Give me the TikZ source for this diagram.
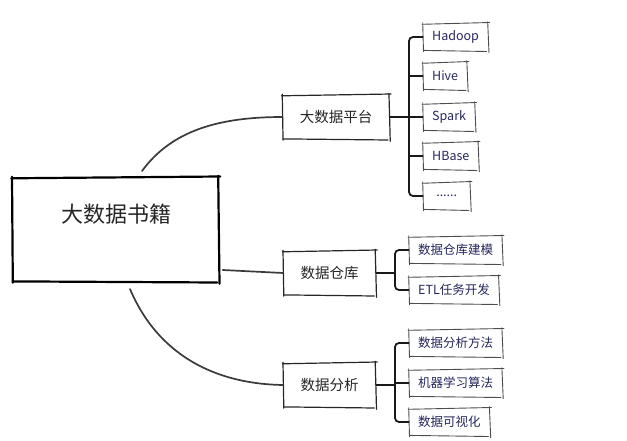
\documentclass[tikz,border=0pt]{standalone}
\usepackage{fontspec}
\newfontfamily\cjk{Noto Sans CJK SC}
\usetikzlibrary{calc}
\definecolor{leaftext}{HTML}{26265E}
\definecolor{linegray}{HTML}{3A3A3A}
\newcommand\skbox[2]{%
  \draw[#2] ($(#1.north west)+(-1,1)$) -- ($(#1.north east)+(1.5,-0.8)$);
  \draw[#2] ($(#1.north east)+(-0.5,-1.5)$) -- ($(#1.south east)+(0.8,2)$);
  \draw[#2] ($(#1.south east)+(-1.5,0.8)$) -- ($(#1.south west)+(0.5,-0.3)$);
  \draw[#2] ($(#1.south west)+(0.5,1)$) -- ($(#1.north west)+(-0.3,-0.5)$);
}
\begin{document}
\begin{tikzpicture}[x=1pt,y=-1pt,
  mainbox/.style={minimum width=206pt,minimum height=104pt,inner sep=0pt},
  mainline/.style={draw=black,line width=2.2pt,line cap=round},
  maintext/.style={font=\cjk\fontsize{22}{24}\selectfont,text=black!85},
  midbox/.style={minimum height=44pt,inner xsep=17pt,font=\cjk\fontsize{14.5}{16}\selectfont,text=black!85},
  midline/.style={draw=black!85,line width=1.2pt,line cap=round},
  leafbox/.style={anchor=west,minimum height=27pt,inner xsep=9pt,font=\cjk\fontsize{12.5}{14}\selectfont,text=leaftext},
  leafline/.style={draw=black!70,line width=0.9pt,line cap=round},
  curve/.style={draw=linegray,line width=1.7pt,line cap=round},
  bracket/.style={draw=black!90,line width=1.8pt,rounded corners=4pt}
]
\useasboundingbox (0,0) rectangle (627,441);
% central
\node[mainbox] (main) at (115.5,229.5) {};
\node[maintext] (mt) at (116,214) {大数据书籍};
% level 1
\node[midbox] (plat) at (336,117) {大数据平台};
\node[midbox] (wh) at (329.5,273) {数据仓库};
\node[midbox] (ana) at (329.5,385) {数据分析};
% leaves of plat
\node[leafbox] (hadoop) at (423,37) {Hadoop};
\node[leafbox] (hive) at (423,76) {Hive};
\node[leafbox] (spark) at (423,117) {Spark};
\node[leafbox] (hbase) at (423,156) {HBase};
\node[leafbox,minimum width=47pt] (more) at (423,196) {......};
% leaves of wh
\node[leafbox] (wh1) at (409,250) {数据仓库建模};
\node[leafbox] (wh2) at (409,290) {ETL任务开发};
% leaves of ana
\node[leafbox] (an1) at (409,343) {数据分析方法};
\node[leafbox] (an2) at (409,383) {机器学习算法};
\node[leafbox] (an3) at (409,422) {数据可视化};
% sketchy borders
\skbox{main}{mainline}
\foreach \n in {plat,wh,ana} {\skbox{\n}{midline}}
\foreach \n in {hadoop,hive,spark,hbase,more,wh1,wh2,an1,an2,an3} {\skbox{\n}{leafline}}
% connectors from main
\coordinate (mtop) at (142,171);
\coordinate (mbot) at (130,289);
\draw[curve] (mtop) .. controls (172,130) and (220,117) .. (plat.west);
\draw[curve] ($(main.east |- wh.west)+(4,-3)$) -- (wh.west);
\draw[curve] (mbot) .. controls (158,355) and (215,384) .. (ana.west);
% bracket plat
\coordinate (pb) at (409,117);
\draw[bracket] (hadoop.west) -| (pb) |- (more.west);
\draw[bracket] (plat.east) -- (pb);
\draw[bracket] (hive.west) -- (hive.west -| pb);
\draw[bracket] (spark.west) -- (spark.west -| pb);
\draw[bracket] (hbase.west) -- (hbase.west -| pb);
% bracket wh
\coordinate (wb) at (395,273);
\draw[bracket] (wh1.west) -| (wb) |- (wh2.west);
\draw[bracket] (wh.east) -- (wb);
% bracket ana
\coordinate (ab) at (395,385);
\draw[bracket] (an1.west) -| (ab) |- (an3.west);
\draw[bracket] (ana.east) -- (ab);
\draw[bracket] (an2.west) -- (an2.west -| ab);
\end{tikzpicture}
\end{document}
